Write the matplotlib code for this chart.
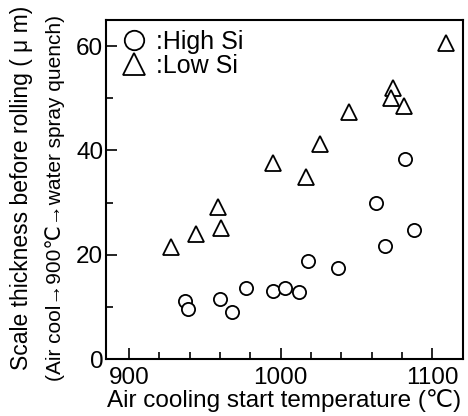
import matplotlib.pyplot as plt
from matplotlib.ticker import MultipleLocator
from matplotlib.lines import Line2D

plt.rcParams['font.family'] = ['Liberation Sans', 'DejaVu Sans']

# High Si (circles)
HIGH_T = [937, 939, 960, 968, 977, 995, 1003, 1012, 1018, 1038, 1063, 1069, 1082, 1088]
HIGH_S = [11.1, 9.5, 11.5, 9.0, 13.7, 13.1, 13.7, 12.8, 18.8, 17.4, 30.0, 21.7, 38.3, 24.7]

# Low Si (triangles)
LOW_T = [928, 944, 959, 961, 995, 1017, 1026, 1045, 1074, 1073, 1081, 1109]
LOW_S = [21.5, 23.9, 29.1, 25.2, 37.5, 34.8, 41.3, 47.4, 52.0, 50.1, 48.5, 60.6]

fig = plt.figure(figsize=(4.68, 4.16), dpi=100)
ax = fig.add_axes([0.2265, 0.137, 0.7625, 0.815])

mk = dict(linestyle='none', markerfacecolor='white', markeredgecolor='black',
          markeredgewidth=1.3)
ax.plot(HIGH_T, HIGH_S, marker='o', markersize=9.5, **mk)
ax.plot(LOW_T, LOW_S, marker='^', markersize=11, **mk)

ax.set_xlim(885, 1120)
ax.set_ylim(0, 65)
ax.xaxis.set_major_locator(MultipleLocator(100))
ax.xaxis.set_minor_locator(MultipleLocator(20))
ax.yaxis.set_major_locator(MultipleLocator(20))
ax.yaxis.set_minor_locator(MultipleLocator(10))
ax.tick_params(which='both', direction='in', labelsize=17.5, width=1.2)
ax.tick_params(which='major', length=8)
ax.tick_params(which='minor', length=5)
ax.tick_params(axis='x', pad=6)
ax.tick_params(axis='y', pad=2)
for s in ax.spines.values():
    s.set_linewidth(1.5)

ax.set_xlabel('Air cooling start temperature (\u2103)', fontsize=17.5, labelpad=0)
fig.text(0.047, 0.548, 'Scale thickness before rolling ( \u03bc m)', rotation=90,
         ha='center', va='center', fontsize=16.5)
fig.text(0.118, 0.524, '(Air cool\u2192900\u2103\u2192water spray quench)', rotation=90,
         ha='center', va='center', fontsize=15)

handles = [Line2D([], [], marker='o', markersize=14, **mk),
           Line2D([], [], marker='^', markersize=16, **mk)]
ax.legend(handles, [':High Si', ':Low Si'], loc='upper left', frameon=False,
          fontsize=18, handlelength=1.4, handletextpad=0.2, borderpad=0.2,
          labelspacing=0.0, borderaxespad=0.2)

fig.savefig('out.png', dpi=100)
